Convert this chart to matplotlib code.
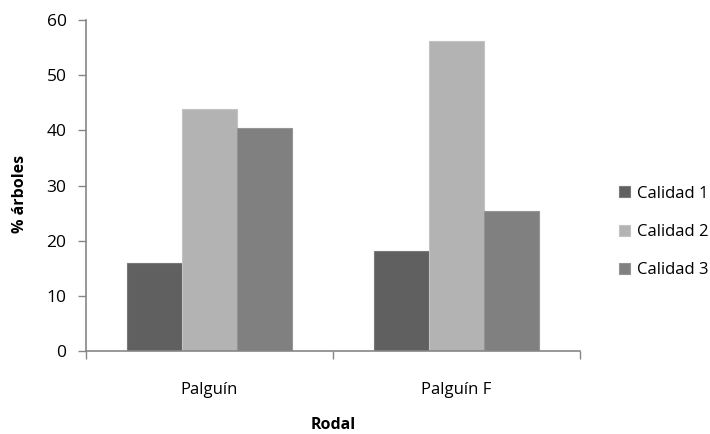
import matplotlib
matplotlib.use("Agg")
import matplotlib.pyplot as plt
import numpy as np

plt.rcParams['font.family'] = ['Open Sans', 'DejaVu Sans']

categories = ["Palguín", "Palguín F"]
series_names = ["Calidad 1", "Calidad 2", "Calidad 3"]
calidad_1 = [15.9, 18.1]
calidad_2 = [43.8, 56.2]
calidad_3 = [40.4, 25.4]
yticks = [0, 10, 20, 30, 40, 50, 60]

colors = ["#606060", "#b3b3b3", "#808080"]
edges = ["#7a7a7a", "#c4c4c4", "#959595"]
axis_color = "#868686"

fig = plt.figure(figsize=(7.1, 4.34), dpi=100)
ax = fig.add_axes([86 / 710, 1 - 351 / 434, 494 / 710, 331 / 434])

x = np.arange(len(categories))
width = 1 / 4.5  # 150% gap between groups
values = [calidad_1, calidad_2, calidad_3]
for i, (vals, name) in enumerate(zip(values, series_names)):
    ax.bar(x + (i - 1) * width, vals, width, color=colors[i],
           edgecolor=edges[i], linewidth=0.8, label=name)

ax.set_xlim(-0.5, len(categories) - 0.5)
ax.set_ylim(0, 60)
ax.set_yticks(yticks)
ax.set_yticklabels([str(t) for t in yticks], fontsize=12.5)

# category labels centred, ticks on category boundaries
ax.set_xticks(x)
ax.set_xticklabels(categories, fontsize=12)
ax.tick_params(axis='x', which='major', length=0, pad=22)
ax.set_xticks(np.arange(-0.5, len(categories)), minor=True)
ax.tick_params(axis='x', which='minor', length=6, width=1, color=axis_color, direction='out')
ax.tick_params(axis='y', length=6, width=1, color=axis_color, direction='out', pad=8)

for s in ['top', 'right']:
    ax.spines[s].set_visible(False)
for s in ['left', 'bottom']:
    ax.spines[s].set_color(axis_color)
    ax.spines[s].set_linewidth(1.2)

ax.set_ylabel("% árboles", fontsize=11.5, fontweight='bold')
ax.yaxis.set_label_coords(-0.117, 0.474)
ax.set_xlabel("Rodal", fontsize=11.5, fontweight='bold')
ax.xaxis.set_label_coords(0.5, -0.198)

leg = fig.legend(loc='center left', bbox_to_anchor=(604 / 710, 1 - 232 / 434),
                 frameon=False, fontsize=12, handlelength=0.65, handleheight=0.65,
                 handletextpad=0.45, labelspacing=1.35)

fig.savefig("out.png", dpi=100)
